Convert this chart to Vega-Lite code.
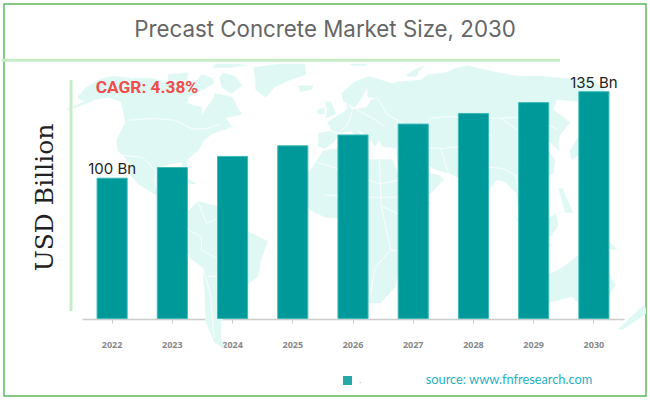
{
  "$schema": "https://vega.github.io/schema/vega-lite/v6.json",
  "width": 642,
  "height": 392,
  "padding": 4,
  "autosize": {"type": "none"},
  "background": "white",
  "title": {
    "text": "Precast Concrete Market Size, 2030",
    "font": "Inter",
    "fontSize": 22.3,
    "fontWeight": 400,
    "color": "#666666",
    "anchor": "middle",
    "frame": "group",
    "baseline": "alphabetic",
    "offset": -55
  },
  "config": {"view": {"stroke": "#5cb85c", "strokeWidth": 1.5}},
  "resolve": {"scale": {"x": "independent"}},
  "datasets": {
    "sizes": [
      {"year": "2022", "usd_bn": 100, "label": "100 Bn", "series": "."},
      {"year": "2023", "usd_bn": 104.3, "series": "."},
      {"year": "2024", "usd_bn": 108.8, "series": "."},
      {"year": "2025", "usd_bn": 113.1, "series": "."},
      {"year": "2026", "usd_bn": 117.5, "series": "."},
      {"year": "2027", "usd_bn": 121.9, "series": "."},
      {"year": "2028", "usd_bn": 126.2, "series": "."},
      {"year": "2029", "usd_bn": 130.6, "series": "."},
      {"year": "2030", "usd_bn": 135, "label": "135 Bn", "series": "."}
    ]
  },
  "layer": [
    {
      "data": {
        "values": {
          "type": "FeatureCollection",
          "features": [
            {"type": "Feature", "properties": {"name": "North America"}, "geometry": {"type": "Polygon", "coordinates": [[[-166,65],[-162,70],[-156,71],[-141,70],[-128,70],[-115,68],[-108,68],[-95,68],[-94,72],[-85,70],[-82,67],[-87,64],[-94,60],[-92,57],[-82,55],[-80,51],[-79,55],[-77,60],[-78,62],[-70,61],[-65,60],[-60,55],[-56,52],[-65,50],[-60,46],[-66,44],[-70,43],[-74,40],[-76,35],[-81,31],[-80,25],[-82,27],[-84,30],[-90,29],[-97,27],[-97,22],[-95,18],[-91,18],[-90,21],[-87,21],[-88,16],[-83,15],[-83,10],[-79,9],[-77,8],[-80,7],[-85,10],[-92,14],[-97,16],[-105,20],[-110,24],[-113,30],[-117,33],[-121,35],[-124,40],[-124,48],[-130,54],[-135,58],[-145,60],[-152,59],[-160,55],[-165,54],[-158,58],[-165,60],[-166,65]]]}},
            {"type": "Feature", "properties": {"name": "Greenland"}, "geometry": {"type": "Polygon", "coordinates": [[[-60,76],[-42,78],[-22,78],[-20,72],[-40,65],[-44,60],[-52,64],[-55,70],[-60,76]]]}},
            {"type": "Feature", "properties": {"name": "Baffin"}, "geometry": {"type": "Polygon", "coordinates": [[[-80,73],[-70,71],[-62,66],[-67,62],[-75,65],[-80,70],[-80,73]]]}},
            {"type": "Feature", "properties": {"name": "Ellesmere"}, "geometry": {"type": "Polygon", "coordinates": [[[-90,78],[-72,78],[-66,77],[-78,76],[-90,76],[-90,78]]]}},
            {"type": "Feature", "properties": {"name": "Victoria"}, "geometry": {"type": "Polygon", "coordinates": [[[-118,72],[-105,73],[-102,69],[-115,69],[-118,72]]]}},
            {"type": "Feature", "properties": {"name": "Cuba"}, "geometry": {"type": "Polygon", "coordinates": [[[-84,22],[-80,23],[-74,20],[-78,20],[-84,22]]]}},
            {"type": "Feature", "properties": {"name": "South America"}, "geometry": {"type": "Polygon", "coordinates": [[[-77,8],[-72,12],[-62,10],[-52,5],[-50,0],[-42,-3],[-35,-6],[-39,-15],[-41,-22],[-48,-26],[-53,-34],[-58,-38],[-65,-42],[-68,-50],[-68,-55],[-73,-52],[-74,-42],[-71,-30],[-70,-18],[-76,-14],[-81,-5],[-80,1],[-77,4],[-77,8]]]}},
            {"type": "Feature", "properties": {"name": "Africa"}, "geometry": {"type": "Polygon", "coordinates": [[[-6,35],[10,37],[11,33],[20,31],[32,31],[36,22],[43,12],[51,12],[47,4],[40,-4],[40,-15],[35,-20],[33,-27],[26,-34],[18,-34],[15,-27],[12,-17],[13,-8],[9,0],[9,4],[-5,5],[-12,8],[-17,14],[-16,22],[-10,30],[-6,35]]]}},
            {"type": "Feature", "properties": {"name": "Eurasia"}, "geometry": {"type": "Polygon", "coordinates": [[[-9,37],[-9,43],[-1,44],[-4,48],[4,52],[8,54],[8,57],[11,54],[20,55],[24,59],[30,60],[22,60],[22,65],[18,60],[13,55],[6,58],[5,62],[14,68],[25,71],[40,67],[44,68],[60,69],[68,72],[80,73],[100,77],[113,74],[130,71],[160,70],[180,69],[180,65],[178,62],[163,60],[162,55],[156,51],[156,58],[142,59],[135,54],[140,48],[130,42],[127,38],[126,35],[122,40],[118,38],[122,31],[119,25],[110,21],[106,19],[109,12],[105,9],[100,13],[103,2],[98,8],[97,16],[92,21],[88,22],[80,15],[78,8],[73,17],[70,22],[62,25],[57,26],[52,28],[48,30],[51,25],[57,24],[59,22],[52,16],[44,13],[39,21],[35,28],[35,36],[27,37],[26,40],[23,37],[19,42],[13,45],[18,40],[16,38],[10,44],[3,43],[0,39],[-5,36],[-9,37]]]}},
            {"type": "Feature", "properties": {"name": "Britain"}, "geometry": {"type": "Polygon", "coordinates": [[[-6,58],[-2,58],[1,52],[-5,50],[-4,54],[-6,58]]]}},
            {"type": "Feature", "properties": {"name": "Ireland"}, "geometry": {"type": "Polygon", "coordinates": [[[-10,54],[-6,55],[-6,52],[-10,52],[-10,54]]]}},
            {"type": "Feature", "properties": {"name": "Iceland"}, "geometry": {"type": "Polygon", "coordinates": [[[-24,66],[-14,66],[-15,64],[-22,63],[-24,66]]]}},
            {"type": "Feature", "properties": {"name": "Svalbard"}, "geometry": {"type": "Polygon", "coordinates": [[[12,78],[25,78],[22,77],[14,77],[12,78]]]}},
            {"type": "Feature", "properties": {"name": "Novaya Zemlya"}, "geometry": {"type": "Polygon", "coordinates": [[[52,72],[68,77],[58,71],[52,71],[52,72]]]}},
            {"type": "Feature", "properties": {"name": "Japan"}, "geometry": {"type": "Polygon", "coordinates": [[[132,35],[140,41],[145,44],[142,40],[140,35],[131,31],[132,35]]]}},
            {"type": "Feature", "properties": {"name": "Madagascar"}, "geometry": {"type": "Polygon", "coordinates": [[[49,-12],[50,-16],[47,-25],[44,-24],[44,-17],[49,-12]]]}},
            {"type": "Feature", "properties": {"name": "Sumatra"}, "geometry": {"type": "Polygon", "coordinates": [[[95,6],[104,-2],[106,-6],[101,-3],[95,6]]]}},
            {"type": "Feature", "properties": {"name": "Borneo"}, "geometry": {"type": "Polygon", "coordinates": [[[109,1],[117,7],[118,1],[114,-4],[110,-3],[109,1]]]}},
            {"type": "Feature", "properties": {"name": "Java"}, "geometry": {"type": "Polygon", "coordinates": [[[105,-6],[115,-8],[106,-8],[105,-6]]]}},
            {"type": "Feature", "properties": {"name": "New Guinea"}, "geometry": {"type": "Polygon", "coordinates": [[[131,-1],[141,-3],[150,-10],[141,-9],[134,-4],[131,-1]]]}},
            {"type": "Feature", "properties": {"name": "Philippines"}, "geometry": {"type": "Polygon", "coordinates": [[[120,18],[122,18],[126,7],[122,7],[120,18]]]}},
            {"type": "Feature", "properties": {"name": "Australia"}, "geometry": {"type": "Polygon", "coordinates": [[[114,-22],[122,-18],[130,-12],[136,-12],[137,-16],[142,-11],[146,-19],[153,-26],[150,-37],[144,-38],[138,-35],[131,-31],[124,-33],[115,-34],[114,-22]]]}},
            {"type": "Feature", "properties": {"name": "New Zealand"}, "geometry": {"type": "Polygon", "coordinates": [[[173,-35],[178,-38],[170,-46],[167,-46],[173,-35]]]}}
          ]
        },
        "format": {"type": "json", "property": "features"}
      },
      "projection": {"type": "naturalEarth1", "scale": 125, "translate": [330, 224]},
      "mark": {"type": "geoshape", "fill": "#e0f8f4", "stroke": "#e0f8f4", "strokeWidth": 0.5}
    },
    {
      "data": {
        "values": {
          "type": "FeatureCollection",
          "features": [
            {"type": "Feature", "properties": {"name": "borders"}, "geometry": {"type": "MultiLineString", "coordinates": [
              [[-123,49],[-95,49],[-83,45],[-75,45],[-67,47]],
              [[-141,70],[-141,60]],
              [[-117,33],[-106,32],[-97,26]],
              [[-70,-10],[-58,-16],[-55,-28]],
              [[-70,-18],[-68,-30],[-72,-50]],
              [[-78,0],[-70,-4],[-70,-10]],
              [[-72,12],[-67,2],[-60,5]],
              [[-58,-20],[-62,-22],[-68,-22]],
              [[-10,30],[10,24],[25,20],[36,22]],
              [[25,31],[25,10],[30,-10],[22,-18],[20,-30]],
              [[-5,15],[15,14],[36,14]],
              [[10,4],[15,14],[12,23]],
              [[30,-10],[40,-11]],
              [[25,10],[40,4]],
              [[-2,44],[3,43],[8,47],[12,55]],
              [[14,54],[23,50],[30,46]],
              [[28,60],[32,52],[40,48],[48,42],[58,50],[85,50],[100,50],[120,50],[130,45]],
              [[35,36],[44,37],[48,30]],
              [[44,37],[60,36],[62,25]],
              [[60,36],[72,37],[75,32],[70,22]],
              [[75,32],[80,28],[92,27],[98,24],[102,22],[108,21]],
              [[85,50],[90,42],[75,38]],
              [[100,50],[110,42],[120,50]],
              [[98,24],[99,14]],
              [[102,22],[105,15]],
              [[141,-3],[141,-9]]
            ]}}
          ]
        },
        "format": {"type": "json", "property": "features"}
      },
      "projection": {"type": "naturalEarth1", "scale": 125, "translate": [330, 224]},
      "mark": {"type": "geoshape", "filled": false, "stroke": "#ffffff", "strokeWidth": 0.8}
    },
    {
      "data": {"name": "sizes"},
      "mark": {"type": "bar", "stroke": "#3dbaba", "strokeWidth": 1},
      "encoding": {
        "x": {
          "field": "year",
          "type": "ordinal",
          "scale": {"range": [78, 620], "paddingInner": 0.5, "paddingOuter": 0.25},
          "axis": {
            "title": null,
            "offset": -77,
            "labelAngle": 0,
            "labelFont": "Open Sans",
            "labelFontWeight": "bold",
            "labelFontSize": 9,
            "labelColor": "#888888",
            "labelPadding": 17,
            "tickColor": "#cccccc",
            "tickSize": 4,
            "domainColor": "#cccccc",
            "domainWidth": 1.5,
            "grid": false
          }
        },
        "y": {
          "field": "usd_bn",
          "type": "quantitative",
          "stack": null,
          "scale": {"domain": [43.2, 170.5], "range": [314.5, 0], "nice": false, "zero": false},
          "axis": {
            "title": "USD Billion",
            "titleFont": "DejaVu Serif",
            "titleFontSize": 25,
            "titleFontWeight": 400,
            "titleColor": "#222222",
            "titleAngle": -90,
            "titleX": 48,
            "titleY": 193,
            "titleBaseline": "alphabetic",
            "titleAlign": "center",
            "labels": false,
            "ticks": false,
            "domain": false,
            "grid": false
          }
        },
        "y2": {"datum": 43.2},
        "color": {
          "field": "series",
          "type": "nominal",
          "scale": {"range": ["#009999"]},
          "legend": {
            "title": null,
            "orient": "none",
            "legendX": 339,
            "legendY": 372,
            "symbolType": "square",
            "symbolSize": 81,
            "symbolOpacity": 0.85,
            "symbolStrokeWidth": 0,
            "labelFontSize": 8,
            "labelOffset": 7,
            "labelColor": "#888888"
          }
        }
      }
    },
    {
      "data": {"name": "sizes"},
      "transform": [{"filter": "datum.label != null"}],
      "mark": {"type": "text", "font": "Inter", "fontSize": 15, "color": "#222222", "baseline": "bottom", "dy": -1},
      "encoding": {
        "x": {
          "field": "year",
          "type": "ordinal",
          "scale": {"domain": ["2022","2023","2024","2025","2026","2027","2028","2029","2030"], "range": [78, 620], "paddingInner": 0.5, "paddingOuter": 0.25},
          "axis": null
        },
        "y": {"field": "usd_bn", "type": "quantitative"},
        "text": {"field": "label"}
      }
    },
    {
      "data": {"values": [{"note": "title underline"}]},
      "mark": {"type": "rule", "color": "#c6ecc6", "strokeWidth": 3},
      "encoding": {
        "x": {"datum": -0.003, "type": "quantitative", "scale": {"domain": [0, 1], "range": [0, 642]}, "axis": null},
        "x2": {"datum": 0.866},
        "y": {"datum": 147.7, "type": "quantitative"}
      }
    },
    {
      "data": {"values": [{"note": "axis line"}]},
      "mark": {"type": "rule", "color": "#c6ecc6", "strokeWidth": 3},
      "encoding": {
        "x": {"datum": 0.1044, "type": "quantitative", "scale": {"domain": [0, 1], "range": [0, 642]}, "axis": null},
        "y": {"datum": 139.8, "type": "quantitative"},
        "y2": {"datum": 46.2}
      }
    },
    {
      "data": {"values": [{"note": "CAGR: 4.38%"}]},
      "mark": {"type": "text", "font": "Roboto", "fontWeight": "bold", "fontSize": 17.3, "color": "#f04e4e", "align": "left", "baseline": "middle"},
      "encoding": {
        "x": {"datum": 0.143, "type": "quantitative", "scale": {"domain": [0, 1], "range": [0, 642]}, "axis": null},
        "y": {"datum": 136.6, "type": "quantitative"},
        "text": {"field": "note"}
      }
    },
    {
      "data": {"values": [{"note": "source: www.fnfresearch.com"}]},
      "mark": {"type": "text", "font": "Lato", "fontSize": 12.8, "color": "#1fb1c4", "align": "left", "baseline": "middle"},
      "encoding": {
        "x": {"datum": 0.657, "type": "quantitative", "scale": {"domain": [0, 1], "range": [0, 642]}, "axis": null},
        "y": {"datum": 18.3, "type": "quantitative"},
        "text": {"field": "note"}
      }
    }
  ]
}
